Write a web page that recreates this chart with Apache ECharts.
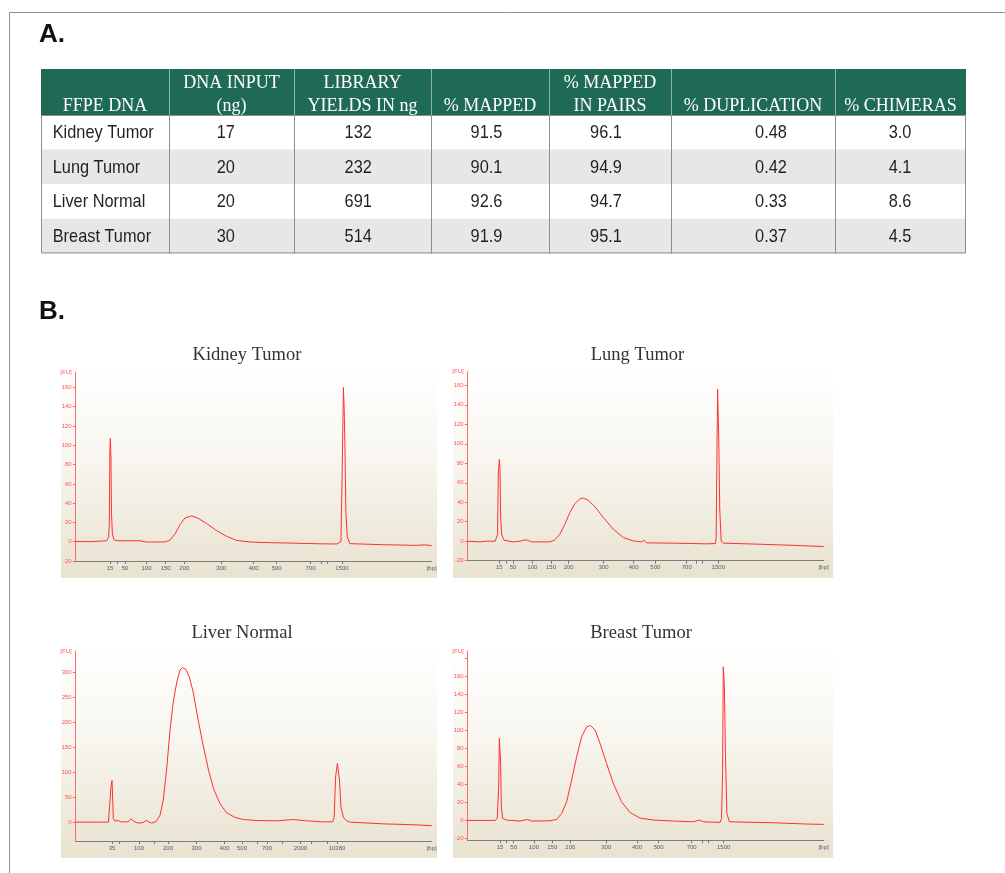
<!DOCTYPE html>
<html>
<head>
<meta charset="utf-8">
<title>FFPE DNA library QC</title>
<script src="https://cdn.jsdelivr.net/npm/echarts@6/dist/echarts.min.js"></script>
<style>
  html, body { margin: 0; padding: 0; background: #ffffff; }
  #chart { width: 1005px; height: 873px; }
</style>
</head>
<body>
<div id="chart"></div>
<script>
// ---------- Table A: sequencing metrics per FFPE sample ----------
const tableHeaders = [
  ['FFPE DNA'],
  ['DNA INPUT', '(ng)'],
  ['LIBRARY', 'YIELDS IN ng'],
  ['% MAPPED'],
  ['% MAPPED', 'IN PAIRS'],
  ['% DUPLICATION'],
  ['% CHIMERAS']
];
const samples = ['Kidney Tumor', 'Lung Tumor', 'Liver Normal', 'Breast Tumor'];
const dnaInputNg = [17, 20, 20, 30];
const libraryYieldNg = [132, 232, 691, 514];
const pctMapped = [91.5, 90.1, 92.6, 91.9];
const pctMappedInPairs = [96.1, 94.9, 94.7, 95.1];
const pctDuplication = [0.48, 0.42, 0.33, 0.37];
const pctChimeras = [3.0, 4.1, 8.6, 4.5];

// ---------- Panel B: electropherograms (migration time units, FU) ----------
const kidneyTrace = [[0,0.3],[4,0],[8.7,1],[9.26,4.5],[9.45,20],[9.6,95],[9.73,107],[9.9,88],[10.05,30],[10.3,8],[10.76,2],[11.5,1],[18.07,1],[19.9,-0.3],[25.1,-0.3],[26.5,1.7],[27.9,8],[29.3,17.7],[30.7,24.7],[32.6,26.8],[34.4,24.3],[36.8,18.8],[39.6,11.5],[42.4,5.6],[45.2,1.4],[49,-0.3],[54.6,-1],[60.2,-1.4],[67.7,-2.1],[73.3,-2.4],[74.5,0],[74.8,60],[75.0,107],[75.2,160],[75.4,140],[75.6,105],[75.9,30],[76.3,5],[77,-2],[86.4,-3.1],[95.8,-3.8],[98.1,-3.2],[98.4,-3.9],[100,-4.2]];
const lungTrace = [[0,0],[3.5,-0.7],[5.3,0],[7.7,0],[8.1,1.4],[8.4,7],[8.6,70],[8.89,84],[9.07,74],[9.26,24],[9.54,7],[10.2,1],[12.8,-0.7],[14.7,0],[16.1,1.4],[16.8,1],[17.3,1.7],[18,-0.7],[23.1,-0.7],[24.5,1.4],[25.9,7.2],[27.3,17.4],[28.7,29.4],[30.1,38.6],[31.5,43.4],[32.5,44.3],[33.9,42],[35.8,35.2],[38.1,24.3],[40.9,12.3],[43.7,3.8],[46.5,0.3],[48.9,-0.7],[49.5,1],[50.3,-1.7],[57.8,-2],[67.1,-2.7],[69.6,-2.4],[69.8,3.8],[69.9,48],[70.2,156],[70.5,110],[70.8,33],[71.2,0.3],[71.8,-2],[81.2,-3],[90.5,-4.1],[100,-5.5]];
const liverTrace = [[0,0.7],[5.9,0.7],[9.2,0.7],[9.6,4.7],[9.9,71],[10.2,84],[10.4,44.7],[10.57,8],[11.0,2.7],[12.0,4],[12.6,1.3],[14.8,1.3],[15.5,7.3],[15.9,11.3],[16.4,2],[17.6,-1.3],[19.0,0],[19.7,4],[20.2,0],[21.3,-1.3],[22.6,2],[23.7,14.7],[24.6,44.7],[25.6,111],[26.5,185],[27.4,241],[28.4,281],[29.3,305],[30.0,310],[31.0,306],[31.9,291],[33.0,261],[34.4,205],[35.9,151],[37.3,105],[38.7,68],[40.5,38],[42.4,19.3],[44.8,10],[47.1,6],[50.8,4],[56.4,3.3],[61.1,6],[64.9,3.3],[69.6,1.3],[72.2,1.3],[72.6,11],[73.0,91],[73.5,118],[74.1,85],[74.5,31],[75.2,10],[76.1,3.3],[77.1,0.7],[86.4,-2.7],[95.8,-4.7],[100,-6.5]];
const breastTrace = [[0,0],[7.7,0],[8.3,2.2],[8.7,37],[8.89,91],[9.07,92.5],[9.26,63],[9.45,15],[9.8,2.2],[10.9,0.4],[14.7,-0.7],[16.8,1.1],[17.3,1.8],[18.0,-0.7],[23.1,-0.4],[25,1.1],[26.4,7.7],[27.8,20.6],[29.2,44.6],[30.6,70.4],[32.0,92.5],[33.4,103.6],[34.5,105],[35.8,100],[37.2,85],[39.0,63],[40.9,41],[43.2,20.6],[45.6,8.8],[48.4,2.6],[52.1,0.4],[57.8,-0.7],[63.4,-1.5],[65.1,0.4],[66.2,-1.5],[70.9,-2.2],[71.3,2.2],[71.6,56],[71.8,170],[72.1,148],[72.4,74],[72.8,7.7],[73.5,-1.5],[76.5,-1.8],[85.9,-2.6],[95.2,-4],[100,-4.4]];

// Ladder positions (migration units) and their size labels in bp ('' = unlabeled tick)
const kidneyTickPos   = [9.63, 11.69, 13.85, 19.89, 25.28, 30.51, 40.87, 50.0, 56.46, 65.96, 68.9, 70.73, 74.8];
const kidneyTickLabel = ['15', '', '50', '100', '150', '200', '300', '400', '500', '700', '', '', '1500'];
const lungTickPos     = [8.88, 10.76, 12.72, 18.15, 23.4, 28.37, 38.2, 46.63, 52.7, 61.52, 64.21, 66.01, 70.39];
const lungTickLabel   = ['15', '', '50', '100', '150', '200', '300', '400', '500', '700', '', '', '1500'];
const liverTickPos    = [10.2, 12.16, 17.78, 22.0, 25.93, 33.93, 41.8, 46.71, 51.07, 53.74, 57.95, 63.15, 66.24, 70.73, 73.4];
const liverTickLabel  = ['35', '', '100', '', '200', '300', '400', '500', '', '700', '', '2000', '', '', '10380'];
const breastTickPos   = [9.07, 10.96, 12.92, 18.62, 23.76, 28.82, 38.93, 47.56, 53.65, 62.92, 65.81, 67.58, 71.91];
const breastTickLabel = ['15', '', '50', '100', '150', '200', '300', '400', '500', '700', '', '', '1500'];

// FU axis ticks
const kidneyFuTicks = [-20, 0, 20, 40, 60, 80, 100, 120, 140, 160];
const lungFuTicks   = [-20, 0, 20, 40, 60, 80, 100, 120, 140, 160];
const liverFuTicks  = [0, 50, 100, 150, 200, 250, 300];
const breastFuTicks = [-20, 0, 20, 40, 60, 80, 100, 120, 140, 160];

// ---------- layout ----------
const panels = [
  { name: samples[0], trace: kidneyTrace, tickPos: kidneyTickPos, tickLabel: kidneyTickLabel, fu: kidneyFuTicks, fuMin: -20, fuMax: 176, extraTicks: [],
    grid: { left: 75.7, top: 372, width: 356, height: 189 }, box: [61, 366, 376, 212], titleX: 247, titleY: 355 },
  { name: samples[1], trace: lungTrace, tickPos: lungTickPos, tickLabel: lungTickLabel, fu: lungFuTicks, fuMin: -20, fuMax: 174, extraTicks: [],
    grid: { left: 467.7, top: 371.7, width: 356, height: 189 }, box: [453, 366, 380, 212], titleX: 637.5, titleY: 355 },
  { name: samples[2], trace: liverTrace, tickPos: liverTickPos, tickLabel: liverTickLabel, fu: liverFuTicks, fuMin: -37, fuMax: 343, extraTicks: [],
    grid: { left: 75.7, top: 651, width: 356, height: 190 }, box: [61, 645, 376, 213], titleX: 242, titleY: 633.5 },
  { name: samples[3], trace: breastTrace, tickPos: breastTickPos, tickLabel: breastTickLabel, fu: breastFuTicks, fuMin: -22, fuMax: 187.5, extraTicks: [180],
    grid: { left: 467.7, top: 651, width: 356, height: 189.3 }, box: [453, 645, 380, 213], titleX: 641, titleY: 633.5 }
];

const TABLE_COLS = [41, 169, 294, 431, 549, 671, 835, 966];
const HEAD_TOP = 69, HEAD_BOTTOM = 115, ROW_H = 34.6;
const CELL_X = [52.7, 225.8, 358.2, 486.5, 606, 771, 900];
const HEAD_GREEN = '#1e6a55';
// condensed grotesque look: regular sans squeezed horizontally
const BODY_FONT = '19px "Liberation Sans", Arial, sans-serif';
const BODY_SQUEEZE = 0.86;
const HEAD_FONT = '18px "Liberation Serif", serif';
const TICK_FONT = 'Liberation Sans';

function txt(text, x, y, font, fill, align, squeeze) {
  return {
    type: 'text', silent: true, x: x, y: y, scaleX: squeeze || 1,
    style: { text: text, x: 0, y: 0, font: font, fill: fill,
             align: align, textAlign: align, verticalAlign: 'middle', textVerticalAlign: 'middle' }
  };
}

const graphics = [];
// page frame
graphics.push({ type: 'line', silent: true, shape: { x1: 9.5, y1: 12.5, x2: 1005, y2: 12.5 }, style: { stroke: '#8f8f8f', lineWidth: 1 } });
graphics.push({ type: 'line', silent: true, shape: { x1: 9.5, y1: 12.5, x2: 9.5, y2: 873 }, style: { stroke: '#8f8f8f', lineWidth: 1 } });
// section letters
graphics.push(txt('A.', 39, 35, 'bold 26px "Liberation Sans", Arial, sans-serif', '#111', 'left'));
graphics.push(txt('B.', 39, 312, 'bold 26px "Liberation Sans", Arial, sans-serif', '#111', 'left'));

// table header
const tableLeft = TABLE_COLS[0], tableRight = TABLE_COLS[TABLE_COLS.length - 1];
graphics.push({ type: 'rect', silent: true, shape: { x: tableLeft, y: HEAD_TOP, width: tableRight - tableLeft, height: HEAD_BOTTOM - HEAD_TOP }, style: { fill: HEAD_GREEN } });
const rows = samples.map((s, i) => [
  s,
  String(dnaInputNg[i]),
  String(libraryYieldNg[i]),
  pctMapped[i].toFixed(1),
  pctMappedInPairs[i].toFixed(1),
  pctDuplication[i].toFixed(2),
  pctChimeras[i].toFixed(1)
]);
rows.forEach((r, i) => {
  const y0 = HEAD_BOTTOM + i * ROW_H;
  graphics.push({ type: 'rect', silent: true, shape: { x: tableLeft, y: y0, width: tableRight - tableLeft, height: ROW_H }, style: { fill: i % 2 ? '#e6e7e8' : '#ffffff' } });
});
const tableBottom = HEAD_BOTTOM + rows.length * ROW_H;
// column separators
for (let c = 1; c < TABLE_COLS.length - 1; c++) {
  const x = TABLE_COLS[c] + 0.5;
  graphics.push({ type: 'line', silent: true, shape: { x1: x, y1: HEAD_TOP, x2: x, y2: HEAD_BOTTOM }, style: { stroke: 'rgba(255,255,255,0.5)', lineWidth: 1 } });
  graphics.push({ type: 'line', silent: true, shape: { x1: x, y1: HEAD_BOTTOM, x2: x, y2: tableBottom }, style: { stroke: '#8e8e8e', lineWidth: 1 } });
}
// outer border of body
graphics.push({ type: 'rect', silent: true, shape: { x: tableLeft + 0.5, y: HEAD_BOTTOM + 0.5, width: tableRight - tableLeft - 1, height: tableBottom - HEAD_BOTTOM - 1 }, style: { fill: null, stroke: '#8e8e8e', lineWidth: 1 } });
// header text
tableHeaders.forEach((lines, c) => {
  const cx = (TABLE_COLS[c] + TABLE_COLS[c + 1]) / 2;
  const ys = lines.length === 1 ? [106] : [83, 106];
  lines.forEach((l, k) => graphics.push(txt(l, cx, ys[k], HEAD_FONT, '#ffffff', 'center')));
});
// body text
rows.forEach((r, i) => {
  const cy = HEAD_BOTTOM + i * ROW_H + ROW_H / 2 + 0.5;
  r.forEach((v, c) => graphics.push(txt(v, CELL_X[c], cy, BODY_FONT, '#231f20', c === 0 ? 'left' : 'center', BODY_SQUEEZE)));
});

// electropherogram backgrounds and titles
panels.forEach(p => {
  graphics.push({
    type: 'rect', silent: true, z: -10,
    shape: { x: p.box[0], y: p.box[1], width: p.box[2], height: p.box[3] },
    style: { fill: { type: 'linear', x: 0, y: 0, x2: 0, y2: 1, colorStops: [
      { offset: 0, color: '#ffffff' }, { offset: 0.4, color: '#f9f7f1' }, { offset: 1, color: '#e8e2d0' }] } }
  });
  graphics.push(txt(p.name, p.titleX, p.titleY, '18.5px "Liberation Serif", serif', '#333333', 'center'));
});

const grids = [], xAxes = [], yAxes = [], series = [];
panels.forEach((p, i) => {
  grids.push(Object.assign({ containLabel: false }, p.grid));
  const labelMap = new Map();
  p.tickPos.forEach((v, k) => { if (p.tickLabel[k]) labelMap.set(v, p.tickLabel[k]); });
  labelMap.set(100, '[bp]');
  xAxes.push({
    gridIndex: i, type: 'value', min: 0, max: 100,
    axisLine: { show: true, onZero: false, lineStyle: { color: '#7d7d7d', width: 1 } },
    axisTick: { show: true, length: 3, customValues: p.tickPos, lineStyle: { color: '#777777' } },
    axisLabel: { show: true, customValues: Array.from(labelMap.keys()), formatter: v => labelMap.get(v) || '',
                 fontSize: 6, fontFamily: TICK_FONT, color: '#5a5a5a', margin: 4 },
    splitLine: { show: false }
  });
  const yLabelVals = p.fu.concat([p.fuMax]);
  yAxes.push({
    gridIndex: i, type: 'value', min: p.fuMin, max: p.fuMax,
    axisLine: { show: true, lineStyle: { color: '#ff6b6b', width: 1 } },
    axisTick: { show: true, length: 3, customValues: p.fu.concat(p.extraTicks), lineStyle: { color: '#ff6b6b' } },
    axisLabel: { show: true, customValues: yLabelVals, formatter: v => (v === p.fuMax ? '[FU]' : String(v)),
                 fontSize: 6, fontFamily: TICK_FONT, color: '#ff5555', margin: 4 },
    splitLine: { show: false }
  });
  series.push({
    type: 'line', xAxisIndex: i, yAxisIndex: i, data: p.trace,
    showSymbol: false, symbol: 'none', animation: false,
    lineStyle: { color: '#ff3030', width: 1 }, clip: true
  });
});

const chart = echarts.init(document.getElementById('chart'), null, { renderer: 'canvas', width: 1005, height: 873 });
chart.setOption({
  backgroundColor: '#ffffff',
  animation: false,
  grid: grids,
  xAxis: xAxes,
  yAxis: yAxes,
  series: series,
  graphic: { elements: graphics }
});
</script>
</body>
</html>
